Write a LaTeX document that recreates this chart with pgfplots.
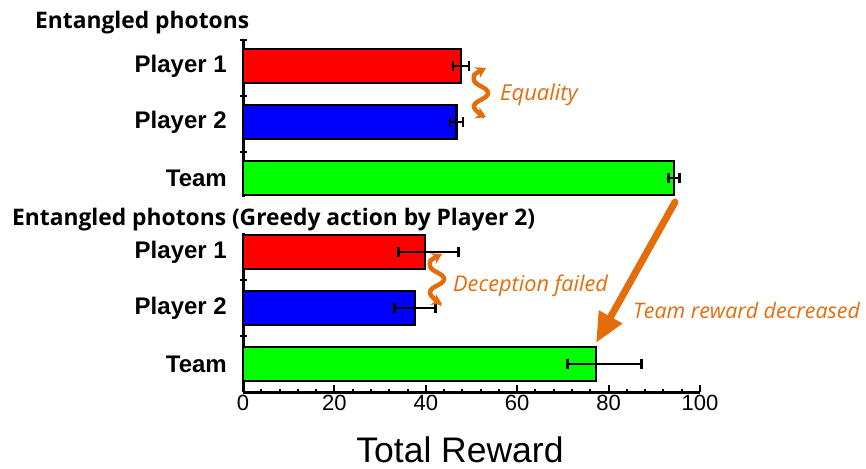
\documentclass[border=0pt]{standalone}
\usepackage{fontspec}
\setmainfont{Liberation Sans}
\newfontfamily\osans{Open Sans}
\usepackage{pgfplots}
\pgfplotsset{compat=1.18}
\usetikzlibrary{arrows.meta}
\definecolor{anno}{RGB}{228,108,10}
\begin{document}
\begin{tikzpicture}
\pgfplotsset{
  common/.style={
    scale only axis, width=457pt,
    xmin=0, xmax=100,
    y dir=reverse,
    xbar, bar width=34pt, bar shift=0pt,
    axis line style={line width=3pt, -},
    /pgf/number format/assume math mode=true,
    xticklabel style={font=\fontsize{22}{26}\selectfont},
    ytick={0,1,2},
    yticklabels={Player 1, Player 2, Team},
    yticklabel style={font=\fontsize{24}{28}\selectfont\bfseries, inner sep=0pt, xshift=-9pt},
    ytick style={draw=none},
    extra y tick labels={},
    extra y tick style={tick align=center, ytick style={draw=black, line width=2pt}, major tick length=7pt},
    tick style={line width=2pt, black},
    major tick length=7pt,
    minor tick length=3.5pt,
    clip=false,
  },
  ebar/.style={line width=2.5pt, draw=black, fill=#1,
    error bars/.cd, x dir=both, x explicit,
    error bar style={line width=2pt, black},
    error mark options={line width=2.5pt, black, mark size=5pt, rotate=90}},
}
% top axis
\begin{axis}[common,
  at={(243pt,-40pt)}, anchor=north west,
  height=157pt, ymin=-0.464, ymax=2.34,
  axis x line=none, axis y line*=left,
  extra y ticks={-0.464,0.53,1.53},
]
\addplot[ebar=red] coordinates {(47.7,0) +- (1.7,0)};
\addplot[ebar=blue] coordinates {(46.7,1) +- (1.4,0)};
\addplot[ebar=green] coordinates {(94.3,2) +- (1.2,0)};
\end{axis}
% bottom axis
\begin{axis}[common,
  at={(243pt,-233pt)}, anchor=north west,
  height=159pt, ymin=-0.34, ymax=2.5,
  axis x line*=bottom, axis y line*=left,
  xtick={0,20,...,100}, minor x tick num=4,
  tick align=inside,
  yticklabel style={xshift=-7pt},
  extra y ticks={0.5,1.5},
]
\addplot[ebar=red] coordinates {(39.8,0) += (7.4,0) -= (5.8,0)};
\addplot[ebar=blue] coordinates {(37.6,1) +- (4.5,0)};
\addplot[ebar=green] coordinates {(77.2,2) += (10.0,0) -= (6.2,0)};
\end{axis}
% titles
\node[anchor=base west, inner sep=0pt, font=\osans\bfseries\fontsize{22.8}{27}\selectfont] at (35pt,-29pt) {Entangled photons};
\node[anchor=base west, inner sep=0pt, font=\osans\bfseries\fontsize{22.8}{27}\selectfont] at (12pt,-225pt) {Entangled photons (Greedy action by Player 2)};
% x label
\node[anchor=base, inner sep=0pt, font=\fontsize{35.5}{42}\selectfont] at (460pt,-462pt) {Total Reward};
% annotations
\draw[anno, line width=4.5pt, {Stealth[length=10pt,width=12pt]}-{Stealth[length=10pt,width=12pt]}]
  plot[smooth, tension=0.8] coordinates {(486pt,-68pt) (474pt,-80pt) (488pt,-93pt) (474pt,-106pt) (486pt,-117pt)};
\node[anchor=base west, inner sep=0pt, anno, font=\osans\itshape\fontsize{22}{26}\selectfont] at (500pt,-100pt) {Equality};
\draw[anno, line width=4.5pt, {Stealth[length=10pt,width=12pt]}-{Stealth[length=10pt,width=12pt]}]
  plot[smooth, tension=0.8] coordinates {(442pt,-254pt) (430pt,-266pt) (444pt,-279pt) (430pt,-292pt) (442pt,-304pt)};
\node[anchor=base west, inner sep=0pt, anno, font=\osans\itshape\fontsize{21.7}{26}\selectfont] at (453pt,-291.5pt) {Deception failed};
\node[anchor=base west, inner sep=0pt, anno, font=\osans\itshape\fontsize{21.4}{26}\selectfont] at (633pt,-318pt) {Team reward decreased};
\draw[anno, line width=7pt, line cap=round, -{Triangle[length=30pt,width=25pt]}] (675pt,-202pt) -- (596pt,-343pt);
\pgfresetboundingbox
\useasboundingbox (0,0) rectangle (866pt,-468pt);
\end{tikzpicture}
\end{document}
